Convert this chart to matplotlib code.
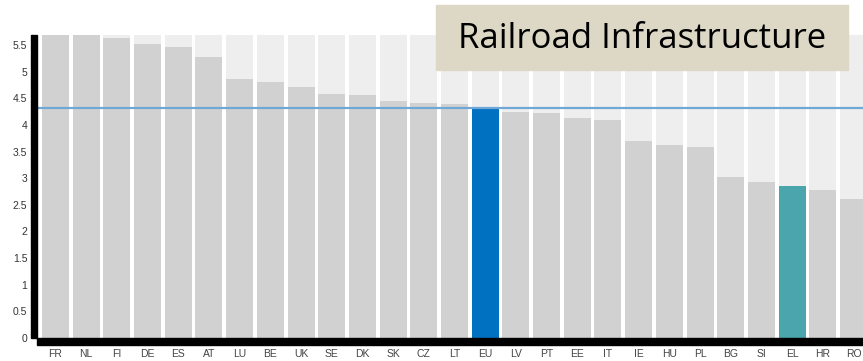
import matplotlib.pyplot as plt
from matplotlib.patches import Rectangle

# values
paises = ["FR", "NL", "FI", "DE", "ES", "AT", "LU", "BE", "UK", "SE", "DK", "SK", "CZ", "LT",
          "EU", "LV", "PT", "EE", "IT", "IE", "HU", "PL", "BG", "SI", "EL", "HR", "RO"]
valores = [5.69, 5.69, 5.64, 5.52, 5.47, 5.27, 4.87, 4.81, 4.71, 4.58, 4.57, 4.45, 4.42, 4.40,
           4.32, 4.25, 4.23, 4.13, 4.10, 3.70, 3.62, 3.58, 3.02, 2.93, 2.85, 2.77, 2.61]
maximo = 5.69
media_eu = 4.32
y_ticks = [0, 0.5, 1, 1.5, 2, 2.5, 3, 3.5, 4, 4.5, 5, 5.5]
y_labels = ["0", "0.5", "1", "1.5", "2", "2.5", "3", "3.5", "4", "4.5", "5", "5.5"]

colores = []
for p in paises:
    if p == "EU":
        colores.append("#0070c0")
    elif p == "EL":
        colores.append("#4aa6ac")
    else:
        colores.append("#d1d1d1")

W, H = 863, 361
fig = plt.figure(figsize=(W / 100, H / 100), dpi=100)
ax = fig.add_axes([37 / W, 23 / H, 835 / W, 303 / H])

x = range(len(paises))
ancho = 0.88
ax.bar(x, [maximo] * len(paises), width=ancho, color="#eeeeee", zorder=1)
ax.bar(x, valores, width=ancho, color=colores, zorder=2)
ax.axhline(media_eu, color="#6fa8d6", linewidth=1.6, zorder=3)

ax.set_xlim(-0.6, 26.6)
ax.set_ylim(0, maximo)
ax.set_xticks(list(x))
ax.set_xticklabels(paises, fontsize=7.5, color="#444444", family="Liberation Sans")
ax.set_yticks(y_ticks)
ax.set_yticklabels(y_labels, fontsize=7.5, color="#333333", family="Liberation Sans")
ax.tick_params(axis="x", length=0, pad=8)
ax.tick_params(axis="y", length=0, pad=7)
for s in ax.spines.values():
    s.set_visible(False)

# ejes negros gruesos
fig.patches.append(Rectangle((31 / W, 23 / H), 6 / W, 303 / H, transform=fig.transFigure,
                             color="black", zorder=5))
fig.patches.append(Rectangle((37 / W, 16 / H), 826 / W, 7 / H, transform=fig.transFigure,
                             color="black", zorder=5))

# caja del titulo
fig.patches.append(Rectangle((436 / W, (H - 70) / H), 412 / W, 65 / H, transform=fig.transFigure,
                             color="#ddd8c5", zorder=6))
fig.text(642 / W, (H - 39) / H, "Railroad Infrastructure", ha="center", va="center",
         fontsize=25, family="Open Sans", color="black", zorder=7)

fig.savefig("out.png", dpi=100)
